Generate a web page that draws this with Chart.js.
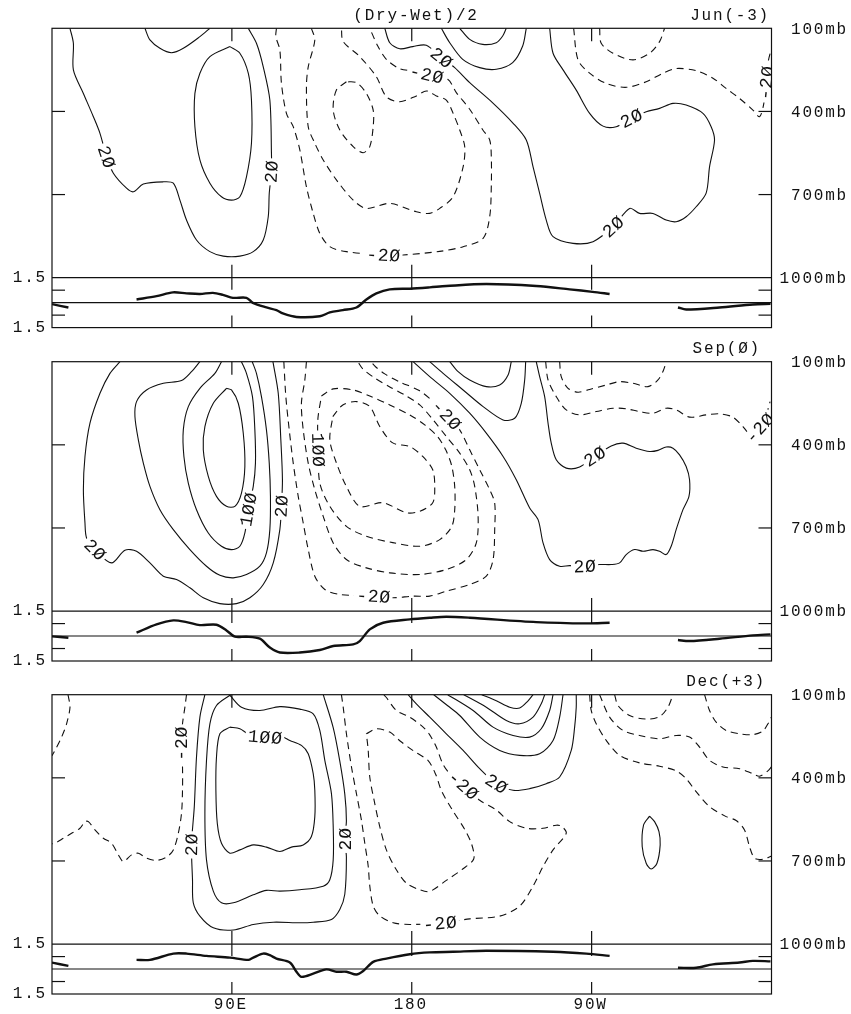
<!DOCTYPE html>
<html>
<head>
<meta charset="utf-8">
<title>(Dry-Wet)/2</title>
<script src="https://cdn.jsdelivr.net/npm/chart.js@4/dist/chart.umd.min.js"></script>
<style>
  body { margin: 0; background: #fff; }
  #wrap { position: relative; width: 851px; height: 1014px; overflow: hidden; }
  canvas { position: absolute; left: 0; }
</style>
</head>
<body>
<div id="wrap">
  <canvas id="c0" width="851" height="334" style="top:0px"></canvas>
  <canvas id="c1" width="851" height="334" style="top:333px"></canvas>
  <canvas id="c2" width="851" height="348" style="top:666px"></canvas>
</div>
<script>
// axes
const lonTicks = [90, 180, 270];
const lonTickLabels = ['90E', '180', '90W'];
const presTicks = [100, 400, 700, 1000];
const stripTicks = [0.75, -0.75];
const stripLimit = 1.5;
const panelTitles = ['Jun(-3)', 'Sep(Ø)', 'Dec(+3)'];
const mainTitle = '(Dry-Wet)/2';

// ---- Jun(-3) : [longitude, pressure mb] ----
const jun_s1 = [[9,100],[10.7,154],[10.7,250],[15.7,335],[20.7,419],[24,479],[27.3,563],[30.7,623],[37.3,677],[40.7,690],[45.7,662],[55.7,654],[60.7,659],[64,720],[67.3,792],[72.3,864],[79,906],[85.7,922],[94,922],[100.7,906],[105.7,864],[108.2,780],[108.7,696],[109.8,618],[109.8,551],[109,359],[105.7,239],[102.3,154],[98.2,100]];
const jun_s2 = [[89,166],[79,202],[74,262],[71.5,335],[71.5,455],[74,575],[79,659],[84.8,708],[89.8,720],[94,708],[97.3,636],[99.8,515],[99.8,359],[98.2,262],[94,190],[89,166]];
const jun_s3 = [[46.5,100],[49,142],[54,172],[59.8,188],[65.7,172],[74,130],[79,100]];
const jun_s4 = [[166.5,100],[169,152],[174,174],[180.5,166],[187.3,161],[194.8,206],[201.5,242],[209,296],[220.5,369],[230.5,441],[237.3,503],[240.7,600],[244,696],[247.3,792],[250.7,852],[260.7,876],[270.7,870],[280.7,816],[289,750],[294,768],[300.7,768],[307.3,792],[312.3,798],[317.3,780],[322.3,744],[327.3,695],[329,600],[331.5,503],[329.8,455],[325.7,407],[317.3,377],[310.7,371],[304,389],[297.3,401],[289.8,425],[282.3,455],[275.7,453],[269,407],[262.3,323],[255.7,250],[250.7,190],[249,100]];
const jun_s5 = [[194.8,100],[199,152],[205.5,212],[214,242],[222.3,248],[230.5,224],[235.5,164],[237.3,100]];
const jun_s6 = [[204,100],[209,140],[215.5,158],[222.3,152],[225.5,128],[227.3,100]];
const jun_d1 = [[112.3,100],[112,130],[114,178],[114.8,298],[117.3,407],[120.7,455],[124,539],[127.3,672],[130.7,768],[134,840],[139,888],[147.3,906],[165.7,918],[175.7,918],[194,905],[205.7,888],[215.7,858],[219,780],[219.8,672],[219.8,563],[219,503],[215.5,466],[209,392],[202.3,332],[198,284],[187.3,266],[180.5,254],[174,246],[167.3,212],[163,164],[159,100]];
const jun_d2 = [[129.8,100],[131.5,142],[128.2,239],[127.3,311],[128.2,455],[131.5,515],[135.7,575],[142.3,647],[150.7,720],[157.3,750],[169,732],[182.3,762],[189,768],[194,750],[200.7,708],[205.7,600],[206.5,527],[204,467],[200.7,407],[197.3,359],[192.3,344],[187.3,326],[182.3,344],[174,365],[167.3,347],[162.3,275],[154,202],[145.7,148],[144.8,100]];
const jun_d3 = [[147.3,293],[142.3,323],[140.7,395],[144,467],[150.7,527],[155.7,549],[159,527],[160.7,455],[160.7,395],[157.3,335],[152.3,296],[147.3,293]];
const jun_d4 = [[261,100],[263.2,214],[269,262],[277.3,299],[287.3,313],[297.3,293],[305.7,262],[312.3,245],[322.3,253],[330.7,280],[337.3,317],[344,353],[350.7,395],[354,419],[356,377],[357.3,298],[358.5,215],[359.8,178]];
const jun_d5 = [[274,100],[274.8,154],[280.7,190],[290.7,214],[299,190],[304,148],[306.5,100]];
// strip : [longitude, index]
const jun_strip1 = [[0,-0.09],[8.2,-0.29]];
const jun_strip2 = [[42.3,0.19],[52.3,0.39],[60.5,0.62],[67.3,0.56],[74,0.52],[80.5,0.59],[85.5,0.47],[90.5,0.29],[97.3,0.29],[100.5,-0.01],[107.3,-0.29],[112.3,-0.45],[115.5,-0.65],[122.3,-0.86],[134,-0.82],[139,-0.59],[145.5,-0.45],[152.3,-0.29],[157.3,0.19],[162.3,0.56],[169,0.8],[179,0.84],[189,0.92],[197.3,1.0],[217.3,1.12],[242.3,1.0],[259,0.8],[270.5,0.65],[279,0.52]];
const jun_strip3 = [[313.2,-0.29],[317.3,-0.41],[334,-0.29],[350.7,-0.11],[359.5,-0.07]];

// ---- Sep(0) ----
const sep_s1 = [[34,100],[29,142],[24,214],[19,322],[16.5,442],[15.7,562],[16.5,682],[17.3,736],[21.5,778],[29.8,826],[36.5,780],[42.3,784],[49,826],[55.7,874],[62.3,886],[69,916],[75.7,952],[84,973],[92.3,973],[99,952],[105.7,904],[110.7,826],[114,706],[114.8,622],[115.3,526],[114.5,382],[113.2,214],[110.7,106],[110.5,100]];
const sep_s2 = [[74,100],[69.8,136],[64.8,168],[55.7,178],[47.3,202],[42.3,244],[41.5,298],[43.2,382],[45.7,466],[49,550],[54,634],[60.7,706],[69,778],[77.3,838],[84,871],[90.7,880],[97.3,868],[104,838],[107.3,790],[109,706],[109.3,586],[108.7,466],[107.3,346],[104.8,226],[102.3,142],[100.2,100]];
const sep_s3 = [[84.8,100],[81.5,142],[74,196],[68.2,262],[65.7,346],[66,442],[68.2,538],[72.3,634],[78.2,718],[84.8,766],[89.8,778],[94,766],[96.5,718],[98.2,634],[100.7,550],[101.8,466],[101.5,346],[100.3,226],[97.3,142],[94.8,100]];
const sep_s4 = [[87.3,196],[80.7,250],[76.5,334],[75.7,418],[78.2,514],[82.3,586],[87.3,622],[91.5,622],[94.8,574],[96.5,478],[95.7,358],[93.2,250],[89.8,202],[87.3,196]];
const sep_s5 = [[180.7,100],[189,154],[199,214],[209,286],[217.3,358],[225.7,442],[232.3,526],[239,628],[243.2,670],[245.7,754],[249,814],[254,838],[259,836],[266.5,838],[274,832],[279.8,832],[284,826],[287.3,796],[291.5,778],[295.7,784],[300.7,778],[304,784],[307.3,796],[309.8,766],[312.3,706],[315.7,634],[318.7,586],[319,526],[317.3,478],[314,436],[310.7,412],[307.3,408],[303.2,420],[299,424],[292.3,412],[285.7,394],[279.8,404],[271.5,442],[264,480],[257.3,484],[252.3,454],[249.8,394],[248.2,322],[246.5,226],[244,154],[242.3,100]];
const sep_s6 = [[189,100],[195.7,142],[205.7,202],[215.7,262],[225.7,310],[231.5,304],[234.8,250],[236.5,166],[237,100]];
const sep_s7 = [[199,100],[203.2,136],[209,166],[217.3,190],[224,184],[228.2,148],[229.8,100]];
const sep_d1 = [[116,100],[117,226],[118.7,346],[120.7,466],[123.2,586],[125.7,682],[128.2,778],[131.5,874],[136.5,922],[144,940],[160.7,946],[170.7,952],[180.7,946],[189,946],[197.3,928],[209,904],[217.3,874],[220.7,814],[221.5,706],[221.5,610],[219,562],[214,490],[209,418],[204,346],[197.3,292],[190.7,244],[184,205],[174,173],[166.5,144],[162,119],[159.5,100]];
const sep_d2 = [[127.3,100],[126.5,166],[124.8,250],[125.7,346],[128.2,466],[131.5,562],[135.7,658],[140.7,754],[147.3,814],[157.3,844],[169,862],[184,868],[197.3,850],[207.3,814],[212.3,754],[213.2,658],[211.5,550],[209,490],[204,430],[197.3,370],[190.7,310],[184,256],[176.5,220],[169,191],[161.5,159],[155.5,126],[153,100]];
const sep_d3 = [[134.8,224],[140.7,198],[150.7,202],[159,224],[169,256],[179,292],[186.5,328],[193,371],[197,418],[200,476],[201.5,551],[201.5,634],[200,695],[194,742],[184,766],[170.5,753],[157.3,730],[147.3,694],[139,622],[134,538],[133.2,418],[133,310],[134.8,224]];
const sep_d4 = [[140.5,298],[145.5,256],[152.3,244],[159,262],[164,334],[170.5,393],[179,406],[185.5,442],[190.5,490],[191.5,550],[190.5,609],[184,640],[177.3,645],[165.5,609],[154,622],[147.3,550],[142.3,465],[139,382],[140.5,298]];
const sep_d5 = [[247,100],[248.2,166],[252.3,226],[257.3,274],[264,292],[272.3,280],[280.7,268],[287.3,270],[294,280],[300.7,286],[307.3,268],[312.3,274],[319,300],[327.3,292],[334,288],[340.7,300],[345.7,334],[349,358],[354,340],[357.3,292],[359.3,244]];
const sep_d6 = [[254,100],[254.8,154],[258.2,196],[263.2,210],[269,200],[277.3,184],[284,172],[290.7,178],[298.2,190],[303.2,166],[306,130],[307.3,100]];
const sep_strip1 = [[0,-0.02],[8.2,-0.1]];
const sep_strip2 = [[42.3,0.2],[52.3,0.7],[60.7,0.94],[67.3,0.84],[74,0.66],[82.3,0.68],[87.3,0.34],[91.5,-0.04],[97.3,-0.04],[104,-0.16],[109,-0.69],[114,-0.99],[124,-0.99],[134,-0.84],[140.7,-0.6],[150.7,-0.5],[154,-0.3],[159,0.4],[165.7,0.8],[179,1.0],[189,1.1],[197.3,1.16],[209,1.1],[242.3,0.84],[267.3,0.76],[279,0.8]];
const sep_strip3 = [[313.2,-0.24],[319,-0.3],[334,-0.16],[350.7,0.04],[359.5,0.1]];

// ---- Dec(+3) ----
const dec_s1 = [[76.5,100],[74,181],[72.3,325],[71.2,504],[69.8,642],[70.3,768],[70.7,851],[74,899],[80.7,941],[90.7,949],[100.7,929],[110.7,921],[124,923],[130.7,921],[139.8,911],[144,875],[146.5,820],[147.3,687],[146.5,622],[147.3,555],[146.5,459],[144,340],[140.7,219],[135.7,100]];
const dec_s2 = [[89,102],[94.8,145],[104,157],[114,143],[124,152],[130.7,169],[134,229],[136.5,337],[139.8,456],[140.7,576],[140.7,696],[139,768],[135.7,791],[124,804],[114,809],[107.3,806],[100.7,822],[90.7,851],[84.8,851],[80.7,809],[77.3,696],[76.5,528],[77.3,337],[79,205],[82.3,139],[89,102]];
const dec_s3 = [[89,217],[84,241],[82.3,325],[82,445],[82.7,564],[84.8,636],[89,672],[94,660],[100.7,642],[107.3,650],[114,666],[119.8,650],[125.7,642],[129.8,612],[131.5,540],[131.5,445],[130.7,385],[128.2,313],[124.8,283],[119,265],[114.8,251],[106.5,253],[98.2,241],[94,223],[89,217]];
const dec_s4 = [[178.2,100],[182.3,133],[189,181],[197.3,241],[205.7,301],[214,367],[222.3,421],[230.7,445],[239,439],[247.3,421],[254,397],[259.8,301],[261.5,217],[262.3,145],[262.3,100]];
const dec_s5 = [[191,100],[198,140],[204,175],[214,253],[224,301],[234,319],[244,313],[250.7,265],[254,181],[255.7,100]];
const dec_s6 = [[198,100],[210.7,157],[220.7,217],[230.7,247],[239,253],[244.8,223],[249,157],[250.7,100]];
const dec_s7 = [[206,100],[217.3,145],[227.3,193],[234,205],[240.7,181],[244.8,133],[246.5,100]];
const dec_s8 = [[215,100],[222.3,122],[229,145],[234,148],[238.2,122],[240.7,100]];
const dec_s9 = [[299,538],[296,570],[295.3,648],[297.3,708],[299.8,729],[302.7,708],[304.3,642],[303.7,594],[301.5,558],[299,538]];
const dec_d1 = [[8,100],[9,145],[7.3,205],[4.8,253],[1.5,301],[0,320]];
const dec_d2 = [[67.3,100],[66.5,145],[65.3,205],[64.8,277],[65.3,361],[65.3,445],[64.8,528],[63.2,600],[60.7,660],[57.3,686],[52.3,698],[47.3,690],[43.2,672],[39.8,678],[35.7,702],[33.2,678],[29.8,636],[25.7,618],[21.5,588],[18.2,558],[16.5,558],[14,582],[9.8,600],[5.7,618],[1.5,636],[0,638]];
const dec_d3 = [[144.8,100],[145.7,145],[147.3,240],[149.8,359],[152.3,456],[154.8,552],[156.5,636],[158.2,718],[159,790],[160.7,862],[164,898],[170.7,923],[179,929],[194,925],[209,909],[224,899],[234,863],[240.7,791],[245.7,720],[250.7,660],[257.3,600],[255,575],[252.3,571],[245.7,582],[237.3,582],[229,558],[222.3,516],[214,481],[205.7,427],[199,385],[195.5,349],[192.3,289],[189,245],[185.7,217],[179,181],[172.3,157],[167.3,110],[166,100]];
const dec_d4 = [[157.3,241],[162.3,223],[169,235],[174,266],[180.7,302],[188.2,338],[192,388],[195,449],[200.5,518],[206.5,586],[210,640],[211,693],[205.5,729],[197.5,769],[189,810],[184,804],[177.3,780],[172.3,732],[167.3,660],[164,576],[161.5,493],[159,397],[158.2,300],[157.3,241]];
const dec_d5 = [[269,100],[269.8,157],[272.3,205],[277.3,265],[284,319],[294,346],[304,358],[312.3,375],[317.3,403],[322.3,450],[329,504],[337.3,540],[342.3,554],[346.5,588],[349,648],[351.5,690],[355.7,694],[360,682]];
const dec_d6 = [[274,100],[279,181],[285.7,229],[294,247],[304,259],[312.3,247],[319,253],[324,289],[329,337],[335.7,361],[344,367],[350.7,385],[354,394],[358.2,375],[360,360]];
const dec_d7 = [[281.5,100],[283.2,139],[289,175],[297.3,188],[304,179],[308.2,145],[310.7,100]];
const dec_d8 = [[326.5,100],[329,157],[332.3,199],[337.3,229],[344,241],[350.7,244],[355.7,231],[358.7,199],[360,180]];
const dec_strip1 = [[0,0.39],[8.2,0.19]];
const dec_strip2 = [[42.3,0.55],[49,0.55],[60.7,0.93],[67.3,0.93],[77.3,0.79],[89,0.69],[98.2,0.55],[100.7,0.69],[105.7,0.93],[109,0.83],[112.3,0.63],[119,0.39],[122.3,-0.16],[124.8,-0.47],[130.7,-0.28],[137.3,-0.02],[142.3,-0.16],[147.3,-0.16],[152.3,-0.33],[155.7,-0.12],[160.7,0.43],[167.3,0.63],[179,0.89],[189,1.0],[200.7,1.04],[217.3,1.1],[250.7,1.04],[267.3,0.93],[279,0.79]];
const dec_strip3 = [[313.2,0.08],[322.3,0.08],[330.7,0.28],[344,0.39],[350.7,0.49],[359.5,0.46]];

// contour labels: [line, point index, text]
const jun_labels = [[jun_s1,6,'2Ø'],[jun_s1,23,'2Ø'],[jun_s4,5,'2Ø'],[jun_s4,17,'2Ø'],[jun_s4,34,'2Ø'],[jun_d1,12,'-2Ø'],[jun_d1,25,'-2Ø'],[jun_d4,15,'-2Ø']];
const sep_labels = [[sep_s1,8,'2Ø'],[sep_s1,23,'2Ø'],[sep_s3,13,'1ØØ'],[sep_s5,13,'2Ø'],[sep_s5,37,'2Ø'],[sep_d1,10,'-2Ø'],[sep_d1,24,'-2Ø'],[sep_d3,20,'1ØØ'],[sep_d5,18,'-2Ø']];
const dec_labels = [[dec_s1,4,'2Ø'],[dec_s1,18,'2Ø'],[dec_s3,21,'1ØØ'],[dec_s4,6,'2Ø'],[dec_d2,3,'-2Ø'],[dec_d3,13,'-2Ø'],[dec_d3,28,'-2Ø']];

// ---- layout ----
const AREA_LEFT = 52, AREA_RIGHT = 771.5, AREA_H = 299.3, MAIN_H = 249.4;
const FONT = '"Liberation Mono", "DejaVu Sans Mono", monospace';

const panels = [
  { id: 'c0', padTop: 28.3, solid: [jun_s1,jun_s2,jun_s3,jun_s4,jun_s5,jun_s6], dashed: [jun_d1,jun_d2,jun_d3,jun_d4,jun_d5],
    strip: [jun_strip1,jun_strip2,jun_strip3], labels: jun_labels, title: panelTitles[0], titleRight: 768, header: mainTitle },
  { id: 'c1', padTop: 28.7, solid: [sep_s1,sep_s2,sep_s3,sep_s4,sep_s5,sep_s6,sep_s7], dashed: [sep_d1,sep_d2,sep_d3,sep_d4,sep_d5,sep_d6],
    strip: [sep_strip1,sep_strip2,sep_strip3], labels: sep_labels, title: panelTitles[1], titleRight: 759 },
  { id: 'c2', padTop: 28.7, solid: [dec_s1,dec_s2,dec_s3,dec_s4,dec_s5,dec_s6,dec_s7,dec_s8,dec_s9], dashed: [dec_d1,dec_d2,dec_d3,dec_d4,dec_d5,dec_d6,dec_d7,dec_d8],
    strip: [dec_strip1,dec_strip2,dec_strip3], labels: dec_labels, title: panelTitles[2], titleRight: 764, xLabels: true }
];

function line(points, axis, width, dash) {
  return {
    data: points.map(p => ({ x: p[0], y: p[1] })),
    yAxisID: axis, showLine: true, borderColor: '#111', borderWidth: width,
    borderDash: dash, pointRadius: 0, tension: 0.3, fill: false
  };
}

const panelDecor = {
  id: 'panelDecor',
  afterDatasetsDraw(chart) {
    const cfg = chart.options.plugins.panelDecor;
    const ctx = chart.ctx, a = chart.chartArea;
    const sx = chart.scales.x, sy = chart.scales.y, ss = chart.scales.s;
    const P = pt => [sx.getPixelForValue(pt[0]), sy.getPixelForValue(pt[1])];

    // contour labels
    ctx.save();
    ctx.beginPath(); ctx.rect(a.left, a.top, a.right - a.left, a.bottom - a.top); ctx.clip();
    ctx.font = '18px ' + FONT;
    ctx.letterSpacing = '0.8px';
    ctx.textAlign = 'center'; ctx.textBaseline = 'middle';
    cfg.labels.forEach(([pts, i, txt]) => {
      const [x0, y0] = P(pts[i - 1]), [x, y] = P(pts[i]), [x1, y1] = P(pts[i + 1]);
      let ang = Math.atan2(y1 - y0, x1 - x0);
      if (ang >= Math.PI / 2) ang -= Math.PI;
      if (ang < -Math.PI / 2) ang += Math.PI;
      const w = ctx.measureText(txt).width;
      ctx.save();
      ctx.translate(x, y); ctx.rotate(ang);
      ctx.fillStyle = '#fff'; ctx.fillRect(-w / 2 - 2, -7, w + 4, 14);
      ctx.fillStyle = '#111'; ctx.fillText(txt, 0.5, 1);
      ctx.restore();
    });
    ctx.restore();

    // frame, dividers, ticks
    ctx.save();
    ctx.strokeStyle = '#111'; ctx.lineWidth = 1.2;
    ctx.strokeRect(a.left, a.top, a.right - a.left, a.bottom - a.top);
    const yBase = sy.getPixelForValue(1000), yZero = ss.getPixelForValue(0);
    const seg = (x0, y0, x1, y1) => { ctx.beginPath(); ctx.moveTo(x0, y0); ctx.lineTo(x1, y1); ctx.stroke(); };
    seg(a.left, yBase, a.right, yBase);
    ctx.lineWidth = 1.1;
    seg(a.left, yZero, a.right, yZero);
    ctx.lineWidth = 1.2;
    presTicks.slice(1, 3).forEach(p => {
      const y = sy.getPixelForValue(p);
      seg(a.left, y, a.left + 13, y); seg(a.right - 13, y, a.right, y);
    });
    stripTicks.forEach(v => {
      const y = ss.getPixelForValue(v);
      seg(a.left, y, a.left + 13, y); seg(a.right - 13, y, a.right, y);
    });
    lonTicks.forEach(l => {
      const x = sx.getPixelForValue(l);
      seg(x, a.top, x, a.top + 13);
      seg(x, yBase - 13, x, yBase + 12);
      seg(x, a.bottom - 12, x, a.bottom);
    });
    ctx.restore();

    // texts
    ctx.save();
    ctx.fillStyle = '#111';
    ctx.font = '16px ' + FONT;
    ctx.letterSpacing = '1.8px';
    ctx.textBaseline = 'middle';
    ctx.textAlign = 'right';
    presTicks.forEach(p => ctx.fillText(p + 'mb', 848, sy.getPixelForValue(p) + 1));
    [stripLimit, -stripLimit].forEach(v => ctx.fillText(Math.abs(v).toFixed(1), 47, ss.getPixelForValue(v)));
    ctx.fillText(cfg.title, cfg.titleRight + 2, a.top - 13);
    if (cfg.header) {
      ctx.textAlign = 'center';
      ctx.fillText(cfg.header, 416, a.top - 13);
    }
    if (cfg.xLabels) {
      ctx.textAlign = 'center';
      lonTicks.forEach((l, k) => ctx.fillText(lonTickLabels[k], sx.getPixelForValue(l) - 1, a.bottom + 11));
    }
    ctx.restore();
  }
};

panels.forEach(pn => {
  const canvas = document.getElementById(pn.id);
  const H = canvas.height;
  const datasets = [];
  pn.solid.forEach(c => datasets.push(line(c, 'y', 1.1, [])));
  pn.dashed.forEach(c => datasets.push(line(c, 'y', 1.1, [7, 5])));
  pn.strip.forEach(c => datasets.push(line(c, 's', 2.4, [])));
  new Chart(canvas.getContext('2d'), {
    type: 'scatter',
    data: { datasets },
    options: {
      responsive: false,
      animation: false,
      events: [],
      layout: { padding: { left: AREA_LEFT, right: 851 - AREA_RIGHT, top: pn.padTop, bottom: H - pn.padTop - AREA_H } },
      plugins: {
        legend: { display: false },
        tooltip: { enabled: false },
        panelDecor: pn
      },
      scales: {
        x: { type: 'linear', min: 0, max: 360, display: false },
        y: { type: 'linear', min: 100, max: 100 + 900 * AREA_H / MAIN_H, reverse: true, display: false },
        s: { type: 'linear', min: -stripLimit, max: -stripLimit + 2 * stripLimit * AREA_H / (AREA_H - MAIN_H), display: false }
      }
    },
    plugins: [panelDecor]
  });
});
</script>
</body>
</html>
